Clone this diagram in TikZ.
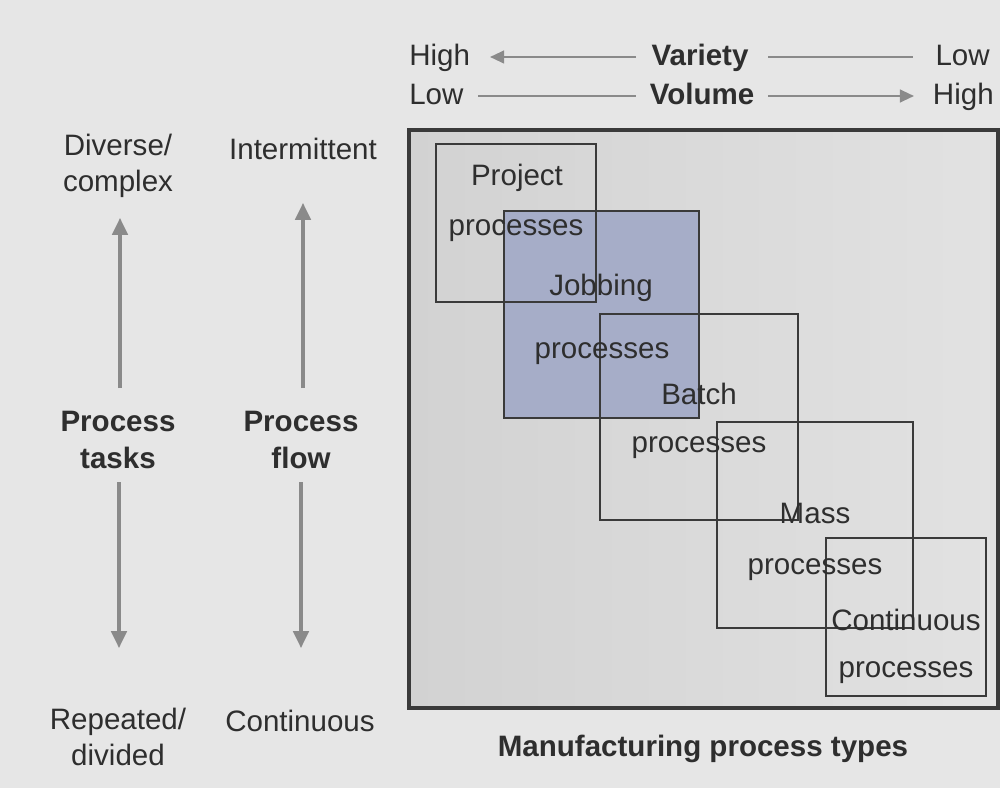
\documentclass[tikz,border=0pt]{standalone}
\usepackage{fontspec}
\setmainfont{Liberation Sans}
\usetikzlibrary{arrows.meta}
\definecolor{bg}{HTML}{E6E6E6}
\definecolor{inL}{HTML}{D2D2D2}
\definecolor{inR}{HTML}{E2E2E2}
\definecolor{txt}{HTML}{2E2E2E}
\definecolor{arr}{HTML}{8A8A8A}
\definecolor{frm}{HTML}{3A3A3A}
\definecolor{jobblue}{HTML}{A6ADC8}
\tikzset{
  lbl/.style={text=txt,inner sep=0pt,font=\fontsize{21}{26}\selectfont,align=center},
  blbl/.style={lbl,font=\fontsize{21}{26}\selectfont\bfseries},
  garrow/.style={draw=arr,line width=2.2pt,-{Triangle[length=12pt,width=11pt]}},
  gline/.style={draw=arr,line width=1.6pt},
  garrowthin/.style={draw=arr,line width=1.6pt,-{Triangle[length=10pt,width=9pt]}},
  ptype/.style={draw=frm,line width=1.1pt},
}
\begin{document}
\begin{tikzpicture}[x=0.025cm,y=-0.025cm]
\useasboundingbox (0,0) rectangle (1000,788);
\fill[bg] (0,0) rectangle (1000,788);
% main frame
\shade[left color=inL, right color=inR] (409,130) rectangle (998,708);
% jobbing fill
\fill[jobblue] (504,211) rectangle (699,418);
% boxes
\node[ptype,minimum width=160*0.025cm,minimum height=158*0.025cm,inner sep=0pt] (proj) at (516,223) {};
\node[ptype,minimum width=195*0.025cm,minimum height=207*0.025cm,inner sep=0pt] (job) at (601.5,314.5) {};
\node[ptype,minimum width=198*0.025cm,minimum height=206*0.025cm,inner sep=0pt] (batch) at (699,417) {};
\node[ptype,minimum width=196*0.025cm,minimum height=206*0.025cm,inner sep=0pt] (mass) at (815,525) {};
\node[ptype,minimum width=160*0.025cm,minimum height=158*0.025cm,inner sep=0pt] (cont) at (906,617) {};
\draw[draw=frm,line width=2.2pt] (409,130) rectangle (998,708);
% box labels
\node[lbl] (projA) at (517,178) {Project};
\node[lbl] (projB) at (516,231) {processes};
\node[lbl] (jobA) at (601,288) {Jobbing};
\node[lbl] (jobB) at (602,354) {processes};
\node[lbl] (batA) at (699,394) {Batch};
\node[lbl] (batB) at (699,448) {processes};
\node[lbl] (masA) at (815,513) {Mass};
\node[lbl] (masB) at (815,570) {processes};
\node[lbl] (conA) at (906,620) {Continuous};
\node[lbl] (conB) at (906,673) {processes};
% top axis
\node[lbl,anchor=base west] (high1) at (409,66) {High};
\node[blbl,anchor=base] (variety) at (700,66) {Variety};
\node[lbl,anchor=base east] (low1) at (990,66) {Low};
\node[lbl,anchor=base west] (low2) at (409,105) {Low};
\node[blbl,anchor=base] (volume) at (702,105) {Volume};
\node[lbl,anchor=base east] (high2) at (994,105) {High};
\coordinate (v1) at (636,57); \coordinate (v1t) at (490,57);
\coordinate (v2) at (768,57); \coordinate (v2e) at (913,57);
\coordinate (w1) at (478,96); \coordinate (w1e) at (636,96);
\coordinate (w2) at (768,96); \coordinate (w2t) at (914,96);
\draw[garrowthin] (v1) -- (v1t);
\draw[gline] (v2) -- (v2e);
\draw[gline] (w1) -- (w1e);
\draw[garrowthin] (w2) -- (w2t);
% left columns
\node[lbl] (diverse) at (118,166) {Diverse/\\complex};
\node[lbl] (intermit) at (303,149) {Intermittent};
\node[blbl] (ptasks) at (118,440) {Process\\tasks};
\node[blbl] (pflow) at (301,440) {Process\\flow};
\node[lbl] (repeated) at (118,737) {Repeated/\\divided};
\node[lbl] (contin) at (300,721) {Continuous};
\coordinate (a1s) at (120,388); \coordinate (a1t) at (120,218);
\coordinate (a2s) at (303,388); \coordinate (a2t) at (303,203);
\coordinate (a3s) at (119,482); \coordinate (a3t) at (119,648);
\coordinate (a4s) at (301,482); \coordinate (a4t) at (301,648);
\draw[garrow] (a1s) -- (a1t);
\draw[garrow] (a2s) -- (a2t);
\draw[garrow] (a3s) -- (a3t);
\draw[garrow] (a4s) -- (a4t);
% bottom caption
\node[blbl] (caption) at (703,749) {Manufacturing process types};
\end{tikzpicture}
\end{document}
